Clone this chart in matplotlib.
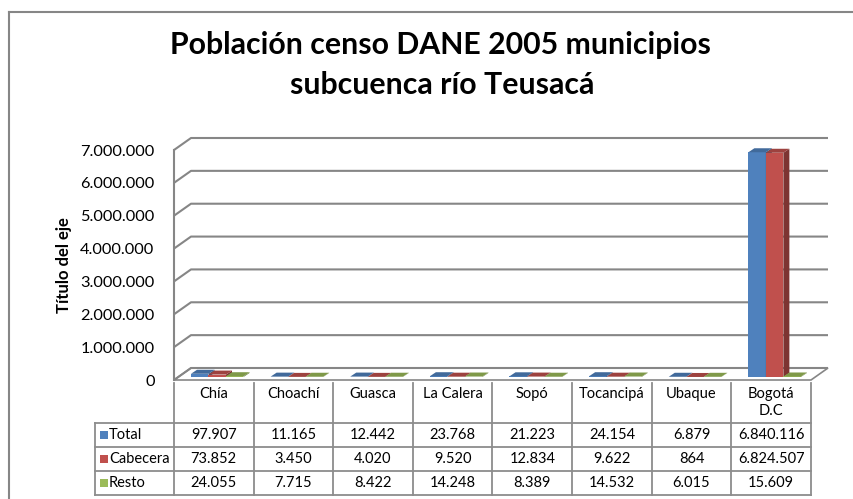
import matplotlib.pyplot as plt
from matplotlib.patches import Polygon, Rectangle
from matplotlib.lines import Line2D
import matplotlib.colors as mcolors

plt.rcParams['font.family'] = ['Lato', 'DejaVu Sans']

# Datos censo DANE 2005
categorias = ['Chía', 'Choachí', 'Guasca', 'La Calera', 'Sopó', 'Tocancipá', 'Ubaque', 'Bogotá\nD.C']
series = ['Total', 'Cabecera', 'Resto']
total = [97907, 11165, 12442, 23768, 21223, 24154, 6879, 6840116]
cabecera = [73852, 3450, 4020, 9520, 12834, 9622, 864, 6824507]
resto = [24055, 7715, 8422, 14248, 8389, 14532, 6015, 15609]
colores = ['#4F81BD', '#C0504D', '#9BBB59']
yticks = [0, 1000000, 2000000, 3000000, 4000000, 5000000, 6000000, 7000000]

valores = [total, cabecera, resto]
n = len(categorias)
W, H = 854, 499
ymax = 7000000
px_x = 637 / n          # pixels per category
px_y = 230 / ymax       # pixels per unit

def fmt(v):
    return f'{v:,}'.replace(',', '.')

def shade(c, f):
    r, g, b = mcolors.to_rgb(c)
    return (r * f, g * f, b * f)

fig = plt.figure(figsize=(W / 100, H / 100), dpi=100)
gris = '#868686'

# marco del gráfico
fig.add_artist(Line2D([9 / W, 9 / W], [0, 1 - 12 / H], color=gris, lw=1.5))
fig.add_artist(Line2D([9 / W, 1], [1 - 12 / H, 1 - 12 / H], color=gris, lw=1.5))

fig.text(440 / W, 1 - 45 / H, 'Población censo DANE 2005 municipios', ha='center', va='center',
         fontsize=21.8, fontweight='bold')
fig.text(442 / W, 1 - 85 / H, 'subcuenca río Teusacá', ha='center', va='center',
         fontsize=21.8, fontweight='bold')

ax = fig.add_axes([174 / W, (H - 380) / H, 637 / W, 230 / H])
ax.set_xlim(0, n)
ax.set_ylim(0, ymax)
for s in ['top', 'right', 'bottom']:
    ax.spines[s].set_visible(False)
ax.spines['left'].set_color(gris)
ax.spines['left'].set_linewidth(1.5)
ax.set_xticks([])
ax.set_yticks(yticks)
ax.set_yticklabels([fmt(v) for v in yticks], fontsize=11.8)
ax.tick_params(axis='y', length=0, pad=14)
ax.set_ylabel('Título del eje', fontsize=12, fontweight='bold', labelpad=6)
ax.patch.set_alpha(0)

# profundidad de las paredes
dx = 17 / px_x
dy = 12 / px_y

floor = Polygon([(0, 0), (n, 0), (n + dx, dy), (dx, dy)], closed=True,
                facecolor='white', edgecolor=gris, lw=1.2, clip_on=False, zorder=1)
ax.add_patch(floor)
for v in yticks:
    ax.plot([0, dx, n + dx], [v, v + dy, v + dy], color=gris, lw=1.5,
            clip_on=False, zorder=1, solid_capstyle='butt')

# barras 3D
w = 17.5 / px_x
bdx = 6 / px_x
bdy = 4 / px_y
base = 3 / px_y
z = 3
for i in range(n):
    for s in range(3):
        v = valores[s][i]
        x0 = i + 17 / px_x + s * w
        c = colores[s]
        ax.bar(x0, v, width=w, bottom=base, align='edge', color=c, zorder=z, clip_on=False)
        side = Polygon([(x0 + w, base), (x0 + w + bdx, base + bdy),
                        (x0 + w + bdx, base + v + bdy), (x0 + w, base + v)],
                       closed=True, facecolor=shade(c, 0.65), lw=0, zorder=z, clip_on=False)
        top = Polygon([(x0, base + v), (x0 + w, base + v),
                       (x0 + w + bdx, base + v + bdy), (x0 + bdx, base + v + bdy)],
                      closed=True, facecolor=shade(c, 0.82), lw=0, zorder=z, clip_on=False)
        ax.add_patch(side)
        ax.add_patch(top)
        z += 1

# tabla de datos
tax = fig.add_axes([174 / W, (H - 495) / H, 637 / W, 112 / H])
tax.set_xlim(0, n)
tax.set_ylim(112, 0)
tax.axis('off')
lc = '#8C8C8C'
left = -79 / px_x
for i in range(n + 1):
    tax.plot([i, i], [0, 112], color=lc, lw=1.3, clip_on=False)
tax.plot([left, left], [40, 112], color=lc, lw=1.3, clip_on=False)
for yy in [40, 64, 88, 112]:
    tax.plot([left, n], [yy, yy], color=lc, lw=1.3, clip_on=False)

fs = 10.5
for i, cat in enumerate(categorias):
    tax.text(i + 0.5, 4, cat, ha='center', va='top', fontsize=fs, linespacing=1.3)
for s in range(3):
    yc = 40 + 24 * s + 12
    for i in range(n):
        tax.text(i + 0.5, yc, fmt(valores[s][i]), ha='center', va='center', fontsize=fs)
    tax.add_patch(Rectangle((left + 5 / px_x, yc - 4), 8 / px_x, 8, facecolor=colores[s],
                            lw=0, clip_on=False))
    tax.text(left + 14 / px_x, yc, series[s], ha='left', va='center', fontsize=fs)

fig.savefig('out.png', dpi=100)
